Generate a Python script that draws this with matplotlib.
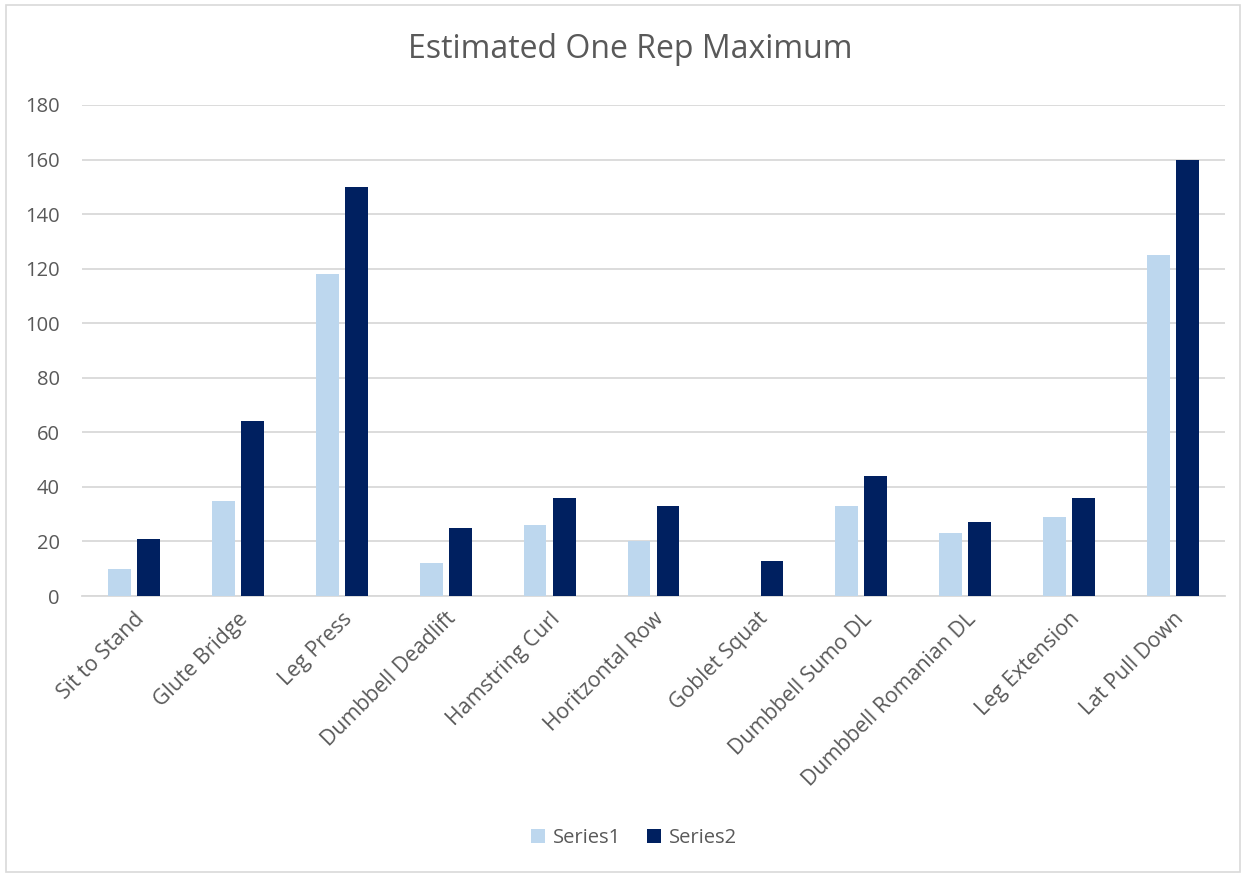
import numpy as np
import matplotlib.pyplot as plt
from matplotlib.patches import Rectangle

# Chart data
exercises = ['Sit to Stand', 'Glute Bridge', 'Leg Press', 'Dumbbell Deadlift',
             'Hamstring Curl', 'Horitzontal Row', 'Goblet Squat', 'Dumbbell Sumo DL',
             'Dumbbell Romanian DL', 'Leg Extension', 'Lat Pull Down']
series1 = [10, 35, 118, 12, 26, 20, 0, 33, 23, 29, 125]
series2 = [21, 64, 150, 25, 36, 33, 13, 44, 27, 36, 160]
y_ticks = [0, 20, 40, 60, 80, 100, 120, 140, 160, 180]

plt.rcParams['font.family'] = ['Open Sans', 'DejaVu Sans']
text_color = '#595959'

fig = plt.figure(figsize=(12.46, 8.75), dpi=100)
ax = fig.add_axes([82 / 1246, 279 / 875, 1143 / 1246, 491 / 875])

x = np.arange(len(exercises))
w = 0.22
ax.bar(x - 0.14, series1, w, color='#BDD7EE', label='Series1', zorder=3)
ax.bar(x + 0.14, series2, w, color='#002060', label='Series2', zorder=3)

ax.set_xlim(-0.5, len(exercises) - 0.5)
ax.set_ylim(0, 180)
ax.set_yticks(y_ticks)
ax.yaxis.grid(True, color='#D9D9D9', linewidth=1.3, zorder=0)
ax.tick_params(axis='y', length=0, labelsize=14.5, labelcolor=text_color, pad=16)
ax.set_xticks(x)
ax.set_xticklabels(exercises, rotation=45, ha='right', rotation_mode='anchor',
                   fontsize=15.3, color=text_color)
ax.tick_params(axis='x', length=0, pad=9)
for side in ['top', 'right', 'left']:
    ax.spines[side].set_visible(False)
ax.spines['bottom'].set_color('#D9D9D9')
ax.spines['bottom'].set_linewidth(1.3)

fig.text(630 / 1246, 1 - 50 / 875, 'Estimated One Rep Maximum', ha='center', va='center',
         fontsize=23, color=text_color)

fig.legend(loc='center', bbox_to_anchor=(634 / 1246, 1 - 838 / 875), ncol=2, frameon=False,
           fontsize=14.5, labelcolor=text_color, handlelength=0.7, handleheight=0.7,
           handletextpad=0.4, columnspacing=1.3)

# chart border
fig.patches.append(Rectangle((6 / 1246, 0.004), 1234 / 1246, 0.99, transform=fig.transFigure,
                             fill=False, edgecolor='#D9D9D9', linewidth=1.2))

fig.savefig('out.png', dpi=100)
